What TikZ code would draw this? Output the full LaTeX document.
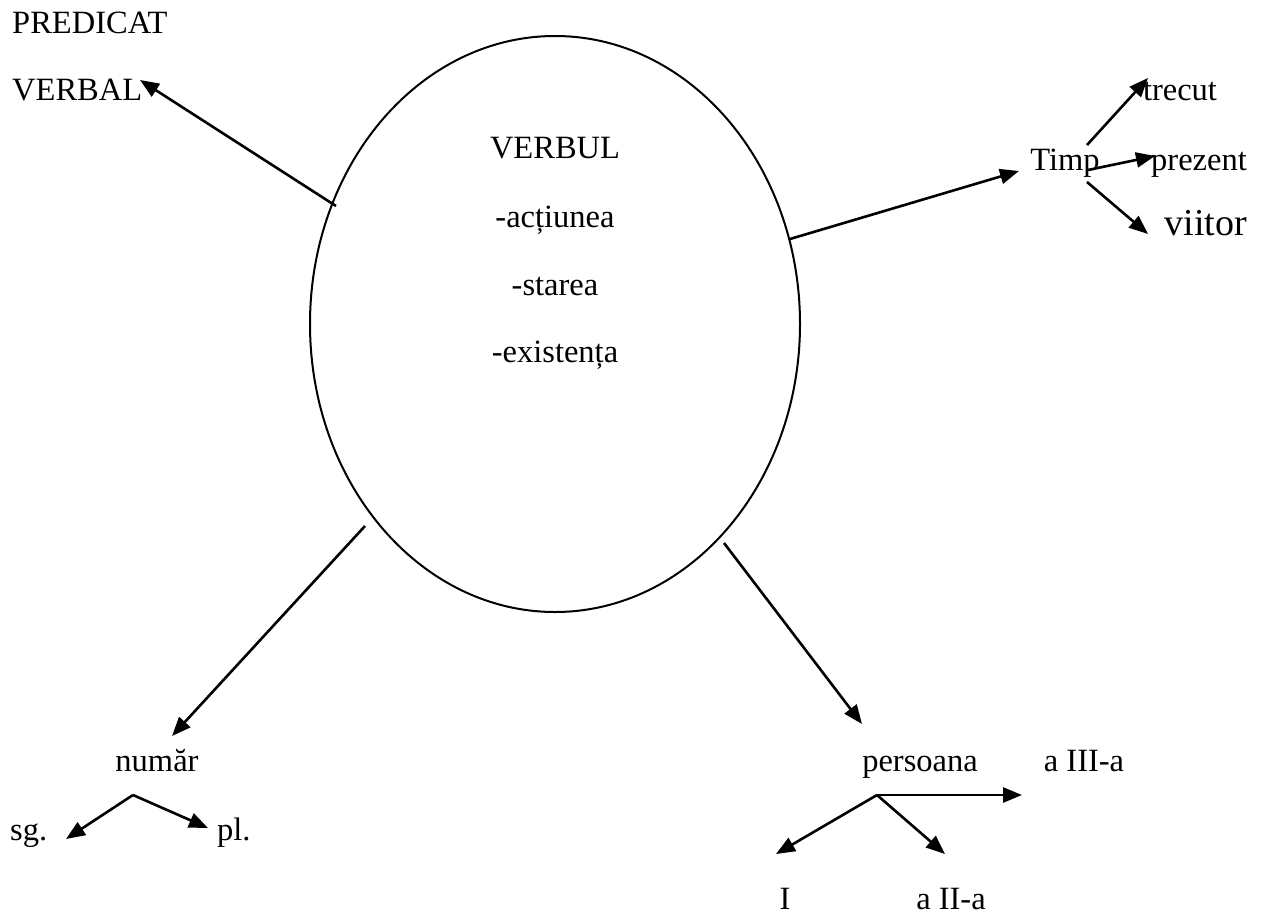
\documentclass[tikz,border=0pt]{standalone}
\usepackage{fontspec}
\setmainfont{Liberation Serif}
\usetikzlibrary{shapes.geometric,arrows.meta}
\tikzset{
  lbl/.style={inner sep=0pt, anchor=base, font=\fontsize{32.5}{39}\selectfont},
  big/.style={inner sep=0pt, anchor=base, font=\fontsize{38}{45}\selectfont},
  arr/.style={line width=2.6pt, -{Triangle[length=19pt,width=15pt]}},
  oval/.style={draw, ellipse, line width=2pt, inner sep=0pt, minimum width=490pt, minimum height=576pt}
}
\begin{document}
\begin{tikzpicture}[x=1pt,y=-1pt]
\useasboundingbox (0,0) rectangle (1261,918);
% central ellipse
\node[oval] (verb) at (555,324) {};
\node[lbl] (t0) at (555,158) {VERBUL};
\node[lbl] (t1) at (555,227) {-acțiunea};
\node[lbl] (t2) at (555,295) {-starea};
\node[lbl] (t3) at (555,362) {-existența};
% predicat
\node[lbl, anchor=base west] (pred) at (12,33) {PREDICAT};
\node[lbl, anchor=base west] (verbal) at (12,100) {VERBAL};
\coordinate (pA) at (336,206);
\coordinate (pT) at (140,80);
\draw[arr] (pA) -- (pT);
% timp
\node[lbl] (timp) at (1065,170) {Timp};
\node[lbl] (trecut) at (1180,100) {trecut};
\node[lbl] (prezent) at (1199,170) {prezent};
\node[big] (viitor) at (1206,235) {viitor};
\coordinate (tA) at (790,239);
\coordinate (tB) at (1019,171);
\draw[arr] (tA) -- (tB);
\coordinate (tc1) at (1087,145);
\coordinate (tc2) at (1088,170);
\coordinate (tc3) at (1087,182);
\coordinate (tr) at (1148,78);
\coordinate (pr) at (1155,156);
\coordinate (vi) at (1148,234);
\draw[arr] (tc1) -- (tr);
\draw[arr] (tc2) -- (pr);
\draw[arr] (tc3) -- (vi);
% numar
\node[lbl] (numar) at (157,771) {număr};
\node[lbl, anchor=base west] (sg) at (10,840) {sg.};
\node[lbl, anchor=base west] (pl) at (217,840) {pl.};
\coordinate (nA) at (365,526);
\coordinate (nB) at (172,736);
\draw[arr] (nA) -- (nB);
\coordinate (nap) at (133,795);
\coordinate (nsg) at (66,839);
\coordinate (npl) at (208,828);
\draw[arr] (nap) -- (nsg);
\draw[arr] (nap) -- (npl);
% persoana
\node[lbl] (pers) at (920,771) {persoana};
\node[lbl] (p3) at (1084,771) {a III-a};
\node[lbl] (p1) at (785,909) {I};
\node[lbl] (p2) at (951,909) {a II-a};
\coordinate (sA) at (724,543);
\coordinate (sB) at (862,724);
\draw[arr] (sA) -- (sB);
\coordinate (sap) at (877,795);
\coordinate (s3) at (1022,795);
\coordinate (s1) at (776,854);
\coordinate (s2) at (945,854);
\draw[arr] (sap) -- (s3);
\draw[arr] (sap) -- (s1);
\draw[arr] (sap) -- (s2);
\end{tikzpicture}
\end{document}
